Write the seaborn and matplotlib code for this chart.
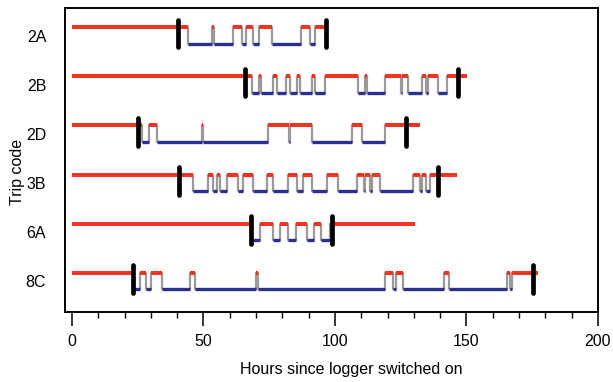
import matplotlib
matplotlib.use("Agg")
import matplotlib.pyplot as plt
import pandas as pd
import seaborn as sns
from matplotlib.ticker import MultipleLocator

# Trip codes, top to bottom
trip_codes = ["2A", "2B", "2D", "3B", "6A", "8C"]

# Hours at which the logger state switches (red -> blue -> red ...)
switches_2A = [44.0, 53.3, 53.9, 61.3, 64.5, 66.2, 68.7, 71.2, 75.9, 87.0, 90.5, 92.4]
switches_2B = [68.3, 71.1, 71.7, 76.5, 77.8, 81.4, 82.9, 85.4, 86.7, 91.1, 92.4, 96.2,
               108.9, 111.4, 112.3, 119.0, 125.0, 125.6, 127.9, 133.0, 134.6, 135.3,
               139.3, 142.5]
switches_2D = [26.8, 29.4, 32.2, 49.3, 49.9, 74.4, 82.4, 83.0, 91.1, 106.3, 110.2, 119.0]
switches_3B = [46.1, 51.8, 53.7, 55.0, 56.3, 58.8, 63.2, 65.1, 68.9, 74.0, 76.5, 82.2,
               85.4, 88.0, 91.1, 96.8, 101.3, 108.2, 111.0, 111.6, 113.3, 113.9,
               117.1, 129.8, 132.3, 132.9, 134.5, 136.0]
switches_6A = [68.0, 71.5, 76.3, 79.2, 82.2, 85.1, 89.2, 92.0, 94.6, 98.0]
switches_8C = [23.1, 25.9, 28.3, 30.2, 34.1, 45.0, 46.8, 70.0, 70.8, 119.0, 122.2, 123.2,
               126.0, 141.6, 143.3, 165.3, 166.5, 167.3]

end_hours = [96.2, 150.2, 132.3, 146.4, 130.4, 177.3]
tag_start = [40.3, 65.8, 25.0, 40.7, 68.0, 23.1]
tag_end = [96.5, 146.6, 127.0, 139.0, 99.0, 175.4]

RED = "#ee3524"
BLUE = "#2b2f8f"
GREY = "#9a9a9a"

sns.set_theme(style="ticks")
plt.rcParams["font.family"] = ["Liberation Sans", "DejaVu Sans"]
plt.rcParams.update({"text.color": "black", "axes.labelcolor": "black",
                     "xtick.color": "black", "ytick.color": "black"})

switch_hours = [switches_2A, switches_2B, switches_2D, switches_3B, switches_6A, switches_8C]

seg_rows, vert_rows, tag_rows = [], [], []
for i, code in enumerate(trip_codes):
    red_y, blue_y = i - 0.17, i + 0.17
    times = [0.0] + switch_hours[i] + [end_hours[i]]
    for k in range(len(times) - 1):
        state = "red" if k % 2 == 0 else "blue"
        level = red_y if state == "red" else blue_y
        seg = f"{code}-{k}"
        seg_rows.append((seg, state, times[k], level))
        seg_rows.append((seg, state, times[k + 1], level))
    for k, t in enumerate(switch_hours[i]):
        vert_rows.append((f"{code}-v{k}", t, red_y))
        vert_rows.append((f"{code}-v{k}", t, blue_y))
    for k, t in enumerate([tag_start[i], tag_end[i]]):
        tag_rows.append((f"{code}-t{k}", t, red_y - 0.15))
        tag_rows.append((f"{code}-t{k}", t, blue_y + 0.07))

segs = pd.DataFrame(seg_rows, columns=["seg", "state", "hours", "level"])
verts = pd.DataFrame(vert_rows, columns=["seg", "hours", "level"])
tags = pd.DataFrame(tag_rows, columns=["seg", "hours", "level"])

fig = plt.figure(figsize=(6.13, 3.82), dpi=100)
ax = fig.add_axes([0.106, 0.183, 0.8695, 0.796])

sns.lineplot(data=verts, x="hours", y="level", units="seg", estimator=None, sort=False,
             color=GREY, lw=1.6, ax=ax, legend=False)
sns.lineplot(data=segs[segs.state == "blue"], x="hours", y="level", units="seg",
             estimator=None, sort=False, color=BLUE, lw=2.4, solid_capstyle="butt",
             ax=ax, legend=False)
sns.lineplot(data=segs[segs.state == "red"], x="hours", y="level", units="seg",
             estimator=None, sort=False, color=RED, lw=2.9, solid_capstyle="butt",
             ax=ax, legend=False)
sns.lineplot(data=tags, x="hours", y="level", units="seg", estimator=None, sort=False,
             color="black", lw=3.4, solid_capstyle="round", ax=ax, legend=False)

ax.set_xlim(-2.66, 200)
ax.set_ylim(5.63, -0.56)
ax.xaxis.set_major_locator(MultipleLocator(50))
ax.xaxis.set_minor_locator(MultipleLocator(10))
ax.set_yticks(range(len(trip_codes)))
ax.set_yticklabels(trip_codes)
ax.tick_params(axis="y", length=0, pad=13.5, labelsize=11.5)
ax.tick_params(axis="x", which="major", length=10, width=1.1, pad=6, labelsize=11.5)
ax.tick_params(axis="x", which="minor", length=4.5, width=1.0)
ax.set_xlabel("Hours since logger switched on", fontsize=11.5)
ax.xaxis.set_label_coords(0.538, -0.165)
ax.set_ylabel("Trip code", fontsize=11.5)
ax.yaxis.set_label_coords(-0.075, 0.46)
for sp in ax.spines.values():
    sp.set_visible(True)
    sp.set_color("black")
    sp.set_linewidth(1.4)

fig.savefig("out.png", dpi=100)
